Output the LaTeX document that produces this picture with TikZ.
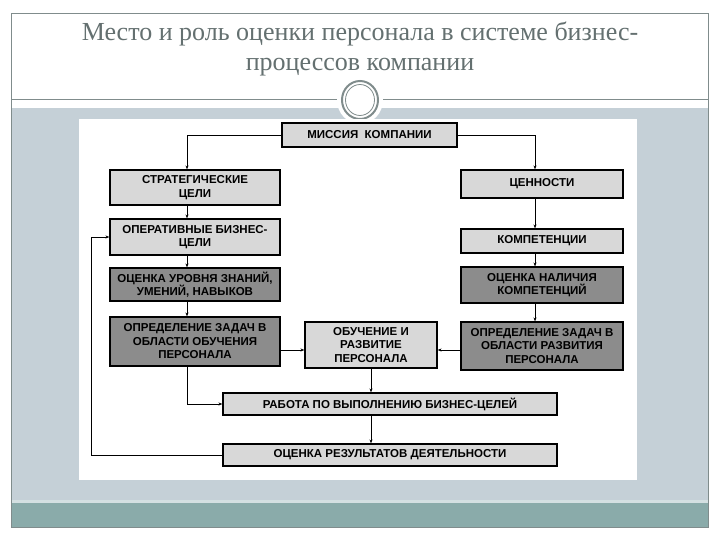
\documentclass[tikz,border=0pt]{standalone}
\usepackage{fontspec}
\setmainfont{Liberation Serif}
\newfontfamily\boxfont{Liberation Sans}
\usetikzlibrary{arrows.meta}
\definecolor{framegray}{RGB}{128,140,140}
\definecolor{titlegray}{RGB}{100,112,112}
\definecolor{bandblue}{RGB}{197,208,215}
\definecolor{bandteal}{RGB}{138,171,170}
\definecolor{stripe}{RGB}{212,224,226}
\definecolor{lightfill}{RGB}{216,216,216}
\definecolor{darkfill}{RGB}{140,140,140}
\tikzset{
  boxbase/.style={draw=black, line width=1.2pt, align=center, inner sep=1pt,
    font=\boxfont\bfseries\fontsize{11.5}{13.5}\selectfont, text=black},
  lightbox/.style={boxbase, fill=lightfill},
  darkbox/.style={boxbase, fill=darkfill},
  conn/.style={draw=black, line width=0.6pt, -{Stealth[length=4pt,width=3pt]}},
}
\begin{document}
\begin{tikzpicture}[x=1pt,y=-1pt]
\useasboundingbox (0,0) rectangle (720,540);
\fill[white] (0,0) rectangle (720,540);
% bands
\fill[bandblue] (11,108) rectangle (708,500);
\fill[stripe] (11,500) rectangle (708,503);
\fill[bandteal] (11,503) rectangle (708,527);
% frame
\draw[framegray, line width=0.8pt] (11,13) rectangle (708,527);
\draw[framegray, line width=1pt] (11,100) -- (708,100);
% title
\node[text=titlegray, font=\fontsize{26}{30}\selectfont, align=center] (title) at (360,49)
  {Место и роль оценки персонала в системе бизнес-\\процессов компании};
% ornament
\fill[white] (360,100) circle [x radius=23, y radius=24];
\draw[framegray, line width=2pt] (360,100) circle [x radius=18, y radius=19];
\draw[framegray, line width=0.8pt] (360,100) circle [x radius=14.5, y radius=15.5];
% white panel
\fill[white] (79,119) rectangle (637,480);
% column coordinates
\coordinate (xl) at (187,0);
\coordinate (xr) at (535,0);
\coordinate (yc) at (0,350);
\coordinate (fb) at (91,0);
% boxes
\node[lightbox, minimum width=175, minimum height=24] (m) at (369.5,135) {МИССИЯ\ \ КОМПАНИИ};
\node[lightbox, minimum width=170, minimum height=35] (s1) at (195,187.5) {СТРАТЕГИЧЕСКИЕ\\ЦЕЛИ};
\node[lightbox, minimum width=170, minimum height=36] (s2) at (195,237) {ОПЕРАТИВНЫЕ БИЗНЕС-\\ЦЕЛИ};
\node[darkbox, minimum width=170, minimum height=33] (s3) at (195,284.5) {ОЦЕНКА УРОВНЯ ЗНАНИЙ,\\УМЕНИЙ, НАВЫКОВ};
\node[darkbox, minimum width=170, minimum height=49] (s4) at (195,341.5) {ОПРЕДЕЛЕНИЕ ЗАДАЧ В\\ОБЛАСТИ ОБУЧЕНИЯ\\ПЕРСОНАЛА};
\node[lightbox, minimum width=162, minimum height=28] (r1) at (542,184) {ЦЕННОСТИ};
\node[lightbox, minimum width=162, minimum height=24] (r2) at (542,241) {КОМПЕТЕНЦИИ};
\node[darkbox, minimum width=162, minimum height=36] (r3) at (542,285) {ОЦЕНКА НАЛИЧИЯ\\КОМПЕТЕНЦИЙ};
\node[darkbox, minimum width=162, minimum height=48] (r4) at (542,346) {ОПРЕДЕЛЕНИЕ ЗАДАЧ В\\ОБЛАСТИ РАЗВИТИЯ\\ПЕРСОНАЛА};
\node[lightbox, minimum width=132, minimum height=46] (c) at (371,345) {ОБУЧЕНИЕ И\\РАЗВИТИЕ\\ПЕРСОНАЛА};
\node[lightbox, minimum width=334, minimum height=22] (w) at (390,404) {РАБОТА ПО ВЫПОЛНЕНИЮ БИЗНЕС-ЦЕЛЕЙ};
\node[lightbox, minimum width=334, minimum height=22] (e) at (390,455) {ОЦЕНКА РЕЗУЛЬТАТОВ ДЕЯТЕЛЬНОСТИ};
% connectors
\draw[conn] (m.west) -- (m.west -| xl) -- (s1.north -| xl);
\draw[conn] (m.east) -- (m.east -| xr) -- (r1.north -| xr);
\draw[conn] (s1.south -| xl) -- (s2.north -| xl);
\draw[conn] (s2.south -| xl) -- (s3.north -| xl);
\draw[conn] (s3.south -| xl) -- (s4.north -| xl);
\draw[conn] (r1.south -| xr) -- (r2.north -| xr);
\draw[conn] (r2.south -| xr) -- (r3.north -| xr);
\draw[conn] (r3.south -| xr) -- (r4.north -| xr);
\draw[conn] (s4.east |- yc) -- (c.west |- yc);
\draw[conn] (r4.west |- yc) -- (c.east |- yc);
\draw[conn] (s4.south -| xl) |- (w.west);
\draw[conn] (c.south) -- (c.south |- w.north);
\draw[conn] (c.south |- w.south) -- (c.south |- e.north);
\draw[conn] (e.west) -- (e.west -| fb) -- (s2.west -| fb) -- (s2.west);
\end{tikzpicture}
\end{document}
